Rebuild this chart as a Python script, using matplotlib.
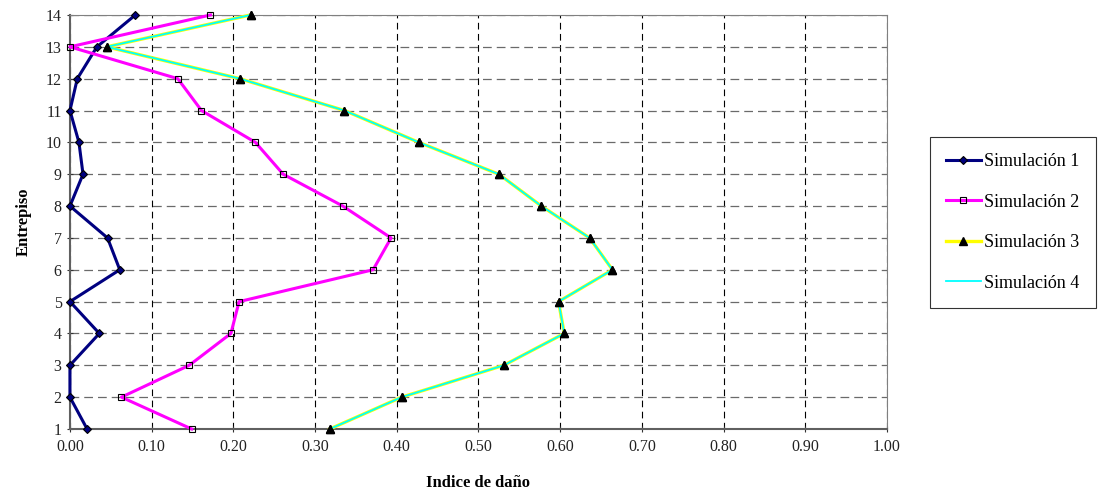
import matplotlib
matplotlib.use('Agg')
import matplotlib.pyplot as plt

plt.rcParams['font.family'] = ['Liberation Serif', 'DejaVu Serif']

# Entrepiso levels (1 at the bottom, 14 at the top)
pisos = [1, 2, 3, 4, 5, 6, 7, 8, 9, 10, 11, 12, 13, 14]

# Indice de dano per simulation
sim1 = [0.021, 0.0, 0.0, 0.036, 0.0, 0.061, 0.046, 0.0, 0.016, 0.011, 0.0, 0.009, 0.033, 0.080]
sim2 = [0.149, 0.063, 0.146, 0.197, 0.207, 0.371, 0.393, 0.334, 0.261, 0.227, 0.161, 0.132, 0.0, 0.172]
sim3 = [0.318, 0.406, 0.531, 0.605, 0.598, 0.664, 0.636, 0.577, 0.525, 0.427, 0.336, 0.208, 0.045, 0.221]
sim4 = [0.318, 0.406, 0.531, 0.605, 0.598, 0.664, 0.636, 0.577, 0.525, 0.427, 0.336, 0.208, 0.045, 0.221]

labels = ['Simulación 1', 'Simulación 2', 'Simulación 3', 'Simulación 4']
xticks = [0.0, 0.1, 0.2, 0.3, 0.4, 0.5, 0.6, 0.7, 0.8, 0.9, 1.0]

fig = plt.figure(figsize=(11.05, 4.93), dpi=100)
ax = fig.add_axes([0.0633, 0.1298, 0.7394, 0.8398])

ax.plot(sim1, pisos, color='#000080', lw=2.2, marker='D', ms=4.5,
        mfc='#000080', mec='black', mew=0.8, label=labels[0], zorder=3, clip_on=False)
ax.plot(sim2, pisos, color='#ff00ff', lw=2.2, marker='s', ms=5,
        mfc='none', mec='black', mew=0.8, label=labels[1], zorder=3, clip_on=False)
ax.plot(sim3, pisos, color='#ffff00', lw=2.4, marker='^', ms=6,
        mfc='black', mec='black', label=labels[2], zorder=3, clip_on=False)
ax.plot(sim4, pisos, color='#00ffff', lw=1.3, label=labels[3], zorder=4, clip_on=False)
# triangles drawn again above the cyan line
ax.plot(sim3, pisos, ls='none', marker='^', ms=6, mfc='black', mec='black',
        zorder=5, clip_on=False)

ax.set_xlim(0, 1.0)
ax.set_ylim(1, 14)
ax.set_xticks(xticks)
ax.set_xticklabels(['%.2f' % v for v in xticks])
ax.set_yticks(pisos)

ax.xaxis.grid(True, color='black', linestyle=(0, (6, 4)), linewidth=0.8)
ax.yaxis.grid(True, color='#6a6a6a', linestyle=(0, (7, 4)), linewidth=0.9)
ax.set_axisbelow(True)
for s in ['top', 'right']:
    ax.spines[s].set_color('#808080')
    ax.spines[s].set_linewidth(0.8)
for s in ['left', 'bottom']:
    ax.spines[s].set_color('#606060')
    ax.spines[s].set_linewidth(1.5)

ax.tick_params(axis='both', direction='inout', length=5, width=0.8,
               labelsize=11.5, colors='#333333', labelcolor='#222222')
ax.tick_params(axis='x', pad=5)

ax.set_xlabel('Indice de daño', fontsize=12, fontweight='bold', labelpad=14)
ax.set_ylabel('Entrepiso', fontsize=12, fontweight='bold', labelpad=10)

leg = fig.legend(loc='upper left', bbox_to_anchor=(930 / 1105, 1 - 137 / 493),
                 fontsize=13, frameon=True, fancybox=False, edgecolor='black',
                 labelspacing=1.3, handlelength=1.9, handletextpad=0.2,
                 borderpad=0.9, borderaxespad=0, markerscale=0.9)
leg.get_frame().set_linewidth(0.8)

fig.savefig('out.png', dpi=100)
